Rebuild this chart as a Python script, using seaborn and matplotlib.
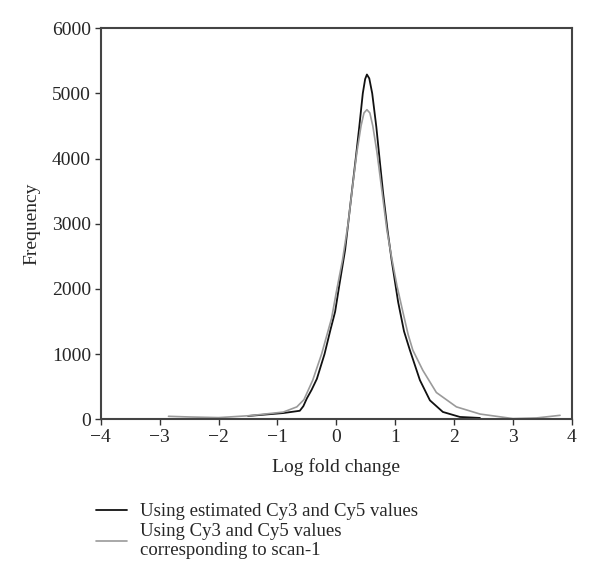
import pandas as pd
import matplotlib
matplotlib.use("Agg")
import matplotlib.pyplot as plt
import seaborn as sns

# values
est_x = [-1.5, -0.9, -0.62, -0.56, -0.5, -0.42, -0.33, -0.2, -0.1, -0.02, 0.05, 0.15,
         0.26, 0.33, 0.39, 0.45, 0.49, 0.52, 0.56, 0.61, 0.68, 0.74, 0.795, 0.87, 0.94,
         1.05, 1.15, 1.25, 1.42, 1.59, 1.81, 2.1, 2.44]
est_y = [50, 95, 130, 200, 320, 450, 620, 1000, 1370, 1650, 2050, 2600,
         3460, 4000, 4485, 5000, 5220, 5290, 5230, 5000, 4485, 3950, 3470, 2900, 2440,
         1800, 1350, 1060, 600, 290, 112, 35, 20]

scan_x = [-2.85, -2.5, -2.0, -1.47, -0.9, -0.67, -0.55, -0.4, -0.25, -0.08, 0.0, 0.105,
          0.2, 0.28, 0.35, 0.42, 0.47, 0.52, 0.57, 0.62, 0.69, 0.78, 0.86, 0.94, 1.03,
          1.13, 1.22, 1.3, 1.47, 1.7, 2.04, 2.44, 3.0, 3.4, 3.8]
scan_y = [45, 35, 25, 55, 110, 190, 300, 600, 1000, 1550, 1950, 2440,
          3000, 3600, 4100, 4500, 4700, 4750, 4700, 4500, 4100, 3470, 2900, 2480, 2050,
          1650, 1300, 1060, 750, 410, 190, 80, 10, 20, 60]

est_label = "Using estimated Cy3 and Cy5 values"
scan_label = "Using Cy3 and Cy5 values\ncorresponding to scan-1"

sns.set_style("ticks")
plt.rcParams["font.family"] = ["Liberation Serif", "DejaVu Serif"]

fig = plt.figure(figsize=(6, 5.88), dpi=100)
ax = fig.add_axes([0.168, 0.287, 0.785, 0.665])

sns.lineplot(x=est_x, y=est_y, ax=ax, color="#111111", lw=1.3, label=est_label)
sns.lineplot(x=scan_x, y=scan_y, ax=ax, color="#9a9a9a", lw=1.2, label=scan_label)

ax.set_xlim(-4, 4)
ax.set_ylim(0, 6000)
ax.set_xticks(range(-4, 5))
ax.set_yticks(range(0, 6001, 1000))
ax.tick_params(labelsize=14, length=4, width=1, color="#333333", direction="out", pad=3)
for s in ax.spines.values():
    s.set_color("#444444")
    s.set_linewidth(1.5)

ax.set_xlabel("Log fold change", fontsize=14, labelpad=9)
ax.set_ylabel("Frequency", fontsize=14, labelpad=8)

h, l = ax.get_legend_handles_labels()
ax.get_legend().remove()
leg = fig.legend(h, l, loc="upper left", bbox_to_anchor=(0.1475, 0.157), frameon=False,
                 fontsize=13.5, handlelength=1.65, handletextpad=0.7, labelspacing=0.15,
                 borderaxespad=0)
for t in leg.get_texts():
    t.set_linespacing(1.15)

fig.savefig("out.png", dpi=100, facecolor="white")
